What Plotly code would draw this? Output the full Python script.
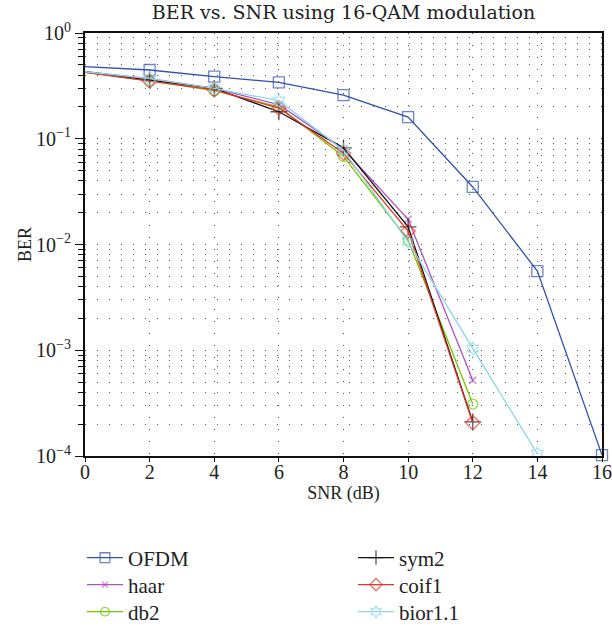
import plotly.graph_objects as go

snr = [0, 2, 4, 6, 8, 10, 12, 14, 16]
snr_bior = [0, 2, 4, 6, 8, 10, 12, 14]
snr_wav = [0, 2, 4, 6, 8, 10, 12]

ber_ofdm = [0.48, 0.447, 0.386, 0.341, 0.259, 0.16, 0.035, 0.0056, 1.02e-4]
ber_haar = [0.43, 0.37, 0.30, 0.21, 0.080, 0.0173, 5.2e-4]
ber_db2 = [0.425, 0.355, 0.285, 0.20, 0.068, 0.011, 3.1e-4]
ber_sym2 = [0.43, 0.36, 0.30, 0.18, 0.082, 0.0147, 2.1e-4]
ber_coif1 = [0.425, 0.35, 0.29, 0.195, 0.073, 0.0134, 2.07e-4]
ber_bior = [0.43, 0.37, 0.30, 0.229, 0.078, 0.0106, 1.04e-3, 1.05e-4]

y_tickvals = [1, 0.1, 0.01, 0.001, 0.0001]
y_ticktext = ["10<sup>0</sup>", "10<sup>−1</sup>", "10<sup>−2</sup>", "10<sup>−3</sup>", "10<sup>−4</sup>"]
x_tickvals = [0, 2, 4, 6, 8, 10, 12, 14, 16]

FONT = "Liberation Serif, Times New Roman, serif"
TFONT = "DejaVu Serif, serif"
TXT = "#222222"

W, H = 612, 626
L, R, T, B = 85, 10, 33, 170
PW, PH = W - L - R, H - T - B

fig = go.Figure()

# legend slots: (legend id, left px, row-centre px)
slots = {
    "legend": (82, 558), "legend2": (82, 585), "legend3": (82, 612),
    "legend4": (353, 558), "legend5": (353, 585), "legend6": (353, 612),
}

def add(x, y, name, color, symbol, size, legend, mlw=1.3):
    sizes = [0] + [size] * (len(x) - 1)  # no marker drawn on the y-axis edge
    fig.add_trace(go.Scatter(
        x=x, y=y, name=name, mode="lines+markers", cliponaxis=False,
        line=dict(color=color, width=1.3),
        marker=dict(symbol=symbol, size=sizes, color=color,
                    line=dict(color=color, width=mlw)),
        legend=legend))

add(snr, ber_ofdm, "OFDM", "#3050b0", "square-open", 11, "legend")
add(snr_wav, ber_haar, "haar", "#b050c8", "x-thin", 7, "legend2")
add(snr_wav, ber_db2, "db2", "#70c800", "circle-open", 10, "legend3")
add(snr_wav, ber_sym2, "sym2", "#111111", "cross-thin", 12, "legend4")
add(snr_wav, ber_coif1, "coif1", "#e8322a", "diamond-open", 11, "legend5")
add(snr_bior, ber_bior, "bior1.1", "#88d8e8", "hexagram-open", 10, "legend6")

minor_vals = [m * 10 ** e for e in range(-4, 0) for m in range(2, 10)]

grid_dash = "1px,11px"
grid_col = "#555555"

legends = {}
for lid, (lx, ly) in slots.items():
    legends[lid] = dict(
        x=(lx - L) / PW, xanchor="left",
        y=-(ly - (T + PH)) / PH, yanchor="middle",
        orientation="v", font=dict(family=FONT, size=21, color=TXT),
        bgcolor="rgba(0,0,0,0)", itemwidth=36, tracegroupgap=0)

fig.update_layout(
    width=W, height=H, showlegend=True,
    margin=dict(l=L, r=R, t=T, b=B, autoexpand=False),
    paper_bgcolor="white", plot_bgcolor="white",
    font=dict(family=FONT, size=18, color=TXT),
    title=dict(text="BER vs. SNR using 16-QAM modulation",
               x=(L + (W - R)) / 2 / W, xanchor="center",
               y=1 - 12 / H, yanchor="middle",
               font=dict(family=TFONT, size=19, color=TXT)),
    xaxis=dict(range=[0, 16], tickvals=x_tickvals, automargin=False,
               tickfont=dict(family=FONT, size=20, color=TXT), tickangle=0,
               ticklabelstandoff=-7,
               showline=True, linecolor="#111111", linewidth=2, mirror=True,
               ticks="outside", ticklen=4, tickcolor="#111111",
               showgrid=True, gridcolor=grid_col, griddash=grid_dash, gridwidth=1,
               zeroline=False,
               title=dict(text="SNR (dB)", standoff=4,
                          font=dict(family=FONT, size=18, color=TXT))),
    yaxis=dict(type="log", range=[-4, 0], tickvals=y_tickvals, ticktext=y_ticktext,
               automargin=False,
               tickfont=dict(family=FONT, size=20, color=TXT),
               showline=True, linecolor="#111111", linewidth=2, mirror=True,
               ticks="outside", ticklen=8, tickcolor="#111111",
               showgrid=True, gridcolor=grid_col, griddash=grid_dash, gridwidth=1,
               zeroline=False,
               minor=dict(tickvals=minor_vals, ticks="outside", ticklen=5,
                          tickcolor="#111111", showgrid=True,
                          gridcolor=grid_col, griddash=grid_dash, gridwidth=1),
               title=dict(text="BER", standoff=0,
                          font=dict(family=FONT, size=18, color=TXT))),
    **legends,
)

fig.write_html("out.html", config={"displayModeBar": False},
               post_script="document.body.style.margin='0';")
